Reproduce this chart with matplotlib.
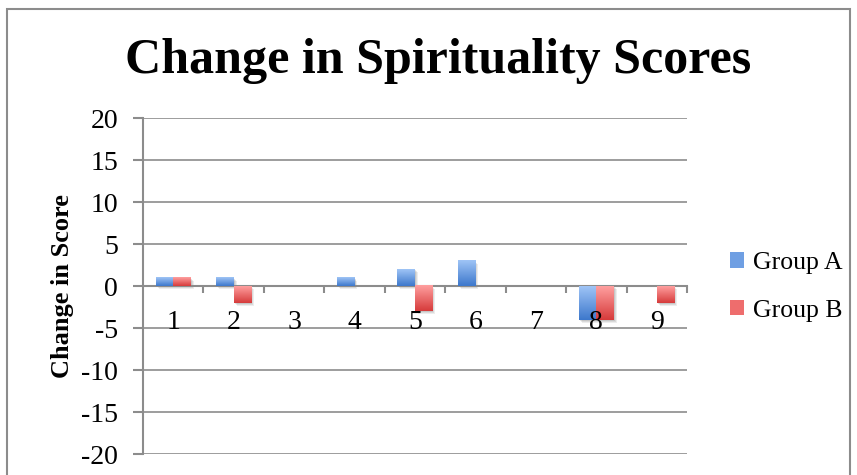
import numpy as np
import matplotlib.pyplot as plt
from matplotlib.colors import LinearSegmentedColormap
from matplotlib.patches import Rectangle, Patch

categories = [1, 2, 3, 4, 5, 6, 7, 8, 9]
group_a = [1, 1, 0, 1, 2, 3, 0, -4, 0]
group_b = [1, -2, 0, 0, -3, 0, 0, -4, -2]
y_ticks = [-20, -15, -10, -5, 0, 5, 10, 15, 20]

plt.rcParams['font.family'] = ['Liberation Serif', 'DejaVu Serif']

fig = plt.figure(figsize=(8.57, 4.75), dpi=100)
ax = fig.add_axes([143 / 857, 1 - 454 / 475, (687 - 143) / 857, (454 - 118) / 475])

blue_cmap = LinearSegmentedColormap.from_list('b', ['#3d78cc', '#9fc4f6'])
red_cmap = LinearSegmentedColormap.from_list('r', ['#d63b3b', '#ff9f9f'])

x = np.array(categories)
w = 0.29
bars_a = ax.bar(x - w / 2, group_a, w, color='none', zorder=3)
bars_b = ax.bar(x + w / 2, group_b, w, color='none', zorder=3)

grad = np.linspace(0, 1, 100).reshape(-1, 1)
for bars, cmap in [(bars_a, blue_cmap), (bars_b, red_cmap)]:
    for p in bars:
        h = p.get_height()
        if h == 0:
            continue
        x0 = p.get_x()
        y0 = min(p.get_y(), p.get_y() + h)
        y1 = max(p.get_y(), p.get_y() + h)
        # soft shadow
        for k, a in [(0.12, 0.10), (0.08, 0.12), (0.04, 0.15)]:
            ax.add_patch(Rectangle((x0 + k * 0.4, y0 - k * 3), p.get_width(), y1 - y0,
                                   color='#555555', alpha=a, lw=0, zorder=2))
        ax.imshow(grad, cmap=cmap, aspect='auto', origin='lower',
                  extent=[x0, x0 + p.get_width(), y0, y1], zorder=4)

ax.set_xlim(0.5, 9.5)
ax.set_ylim(-20, 20)
ax.set_yticks(y_ticks)
ax.set_yticklabels([str(v) for v in y_ticks], fontsize=20)
ax.grid(axis='y', color='#8c8c8c', lw=1.2, zorder=0)
ax.set_axisbelow(True)

for s in ['top', 'right']:
    ax.spines[s].set_visible(False)
ax.spines['left'].set_color('#8c8c8c')
ax.spines['left'].set_linewidth(1.5)
ax.spines['bottom'].set_position(('data', 0))
ax.spines['bottom'].set_color('#8c8c8c')
ax.spines['bottom'].set_linewidth(1.5)
ax.spines['bottom'].set_zorder(2.5)

ax.set_xticks(x)
ax.set_xticklabels([str(c) for c in categories], fontsize=20)
ax.set_xticks(np.arange(1.5, 10, 1), minor=True)
ax.tick_params(axis='x', which='major', length=0, pad=17)
ax.tick_params(axis='x', which='minor', length=5, width=1.5, color='#8c8c8c', direction='out')
ax.tick_params(axis='y', length=7, width=1.5, color='#8c8c8c', pad=11)
ax.xaxis.set_zorder(5)

ax.set_ylabel('Change in Score', fontsize=19, fontweight='bold', labelpad=5)
fig.text(438 / 857, 1 - 61 / 475, 'Change in Spirituality Scores', ha='center', va='center',
         fontsize=36, fontweight='bold')

handles = [Patch(facecolor='#6f9fe3', edgecolor='none'), Patch(facecolor='#ee6d6d', edgecolor='none')]
fig.legend(handles, ['Group A', 'Group B'], loc='center left', bbox_to_anchor=(707 / 857, 1 - 287 / 475),
           frameon=False, fontsize=18.5, handlelength=0.55, handleheight=0.55, handletextpad=0.35,
           labelspacing=1.0)

fig.add_artist(Rectangle((7.5 / 857, -0.05), (850 - 7.5) / 857, 1.05 - 9 / 475,
                         transform=fig.transFigure, fill=False, edgecolor='#8c8c8c', lw=1.5))

fig.savefig('out.png', dpi=100)
